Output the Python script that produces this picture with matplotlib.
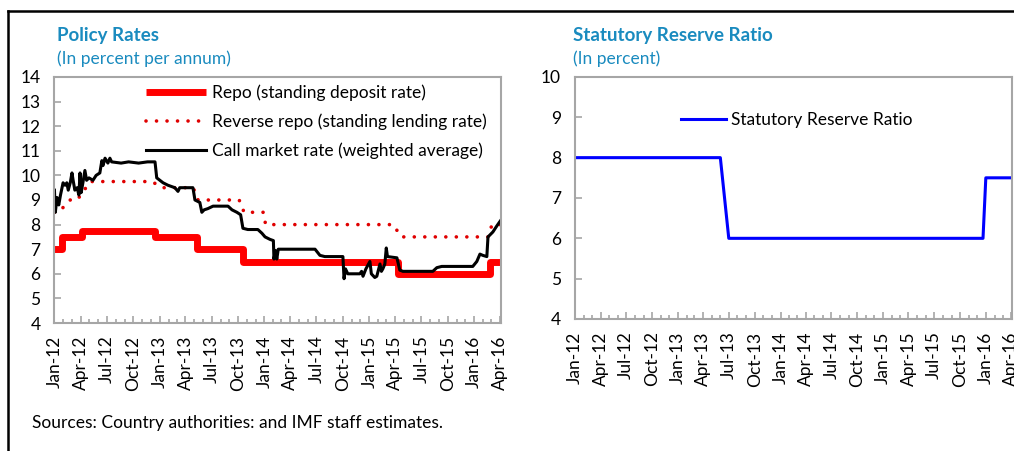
import matplotlib
matplotlib.use('Agg')
import matplotlib.pyplot as plt
import matplotlib.dates as mdates
from matplotlib.lines import Line2D
import pandas as pd

plt.rcParams['font.family'] = ['Lato', 'DejaVu Sans']

# repo (standing deposit rate), step changes
repo_dates = ['2012-01-01', '2012-01-27', '2012-04-05', '2012-12-16', '2013-05-11',
              '2013-10-18', '2015-04-10', '2016-02-25', '2016-04-03']
repo_vals = [7.0, 7.5, 7.75, 7.5, 7.0, 6.5, 6.0, 6.5, 6.5]

# reverse repo (standing lending rate)
rev_dates = ['2012-01-01', '2012-01-15', '2012-02-25', '2012-03-20', '2012-05-05',
             '2012-12-05', '2013-01-10', '2013-04-28', '2013-05-15', '2013-10-05',
             '2013-10-22', '2013-12-28', '2014-01-05', '2015-03-25', '2015-04-22',
             '2016-02-18', '2016-03-03', '2016-04-03']
rev_vals = [8.5, 8.5, 9.0, 9.0, 9.75, 9.75, 9.5, 9.5, 9.0, 9.0,
            8.5, 8.5, 8.0, 8.0, 7.5, 7.5, 8.0, 8.0]

# call market rate (weighted average)
call_dates = ['2012-01-01', '2012-01-04', '2012-01-10', '2012-01-16', '2012-01-22',
              '2012-01-31', '2012-02-07', '2012-02-13', '2012-02-18', '2012-02-25',
              '2012-03-02', '2012-03-06', '2012-03-12', '2012-03-20', '2012-03-26',
              '2012-03-30', '2012-04-03', '2012-04-09', '2012-04-16', '2012-04-22',
              '2012-04-30', '2012-05-14', '2012-05-25', '2012-06-07', '2012-06-14',
              '2012-06-18', '2012-06-25', '2012-07-05', '2012-07-12', '2012-07-18',
              '2012-08-20', '2012-09-15', '2012-10-20', '2012-11-20', '2012-12-16',
              '2012-12-22', '2013-01-02', '2013-01-13', '2013-01-30', '2013-02-23',
              '2013-03-06', '2013-03-12', '2013-04-27', '2013-05-04', '2013-05-21',
              '2013-05-28', '2013-06-05', '2013-06-18', '2013-07-06', '2013-08-27',
              '2013-09-10', '2013-09-27', '2013-10-10', '2013-10-18', '2013-11-04',
              '2013-12-09', '2013-12-23', '2014-01-03', '2014-01-20', '2014-02-01',
              '2014-02-03', '2014-02-08', '2014-02-13', '2014-02-18', '2014-06-26',
              '2014-07-13', '2014-07-30', '2014-10-01', '2014-10-05', '2014-10-10',
              '2014-10-18', '2014-11-29', '2014-12-05', '2014-12-10', '2014-12-20',
              '2015-01-03', '2015-01-08', '2015-01-20', '2015-01-27', '2015-02-07',
              '2015-02-12', '2015-02-17', '2015-02-24', '2015-03-01', '2015-03-05',
              '2015-04-07', '2015-04-17', '2015-04-28', '2015-08-10', '2015-08-24',
              '2015-09-10', '2015-12-27', '2016-01-10', '2016-01-21', '2016-01-31',
              '2016-02-14', '2016-02-18', '2016-03-06', '2016-03-20', '2016-04-01']
call_vals = [9.4, 8.5, 9.1, 8.8, 9.2,
             9.7, 9.6, 9.7, 9.4, 9.7,
             10.1, 9.8, 9.4, 9.5, 9.2,
             10.1, 9.3, 9.7, 10.2, 9.8,
             9.9, 9.8, 10.0, 10.1, 10.6,
             10.4, 10.7, 10.5, 10.7, 10.55,
             10.5, 10.55, 10.5, 10.55, 10.55,
             9.9, 9.8, 9.7, 9.6, 9.5,
             9.35, 9.5, 9.5, 9.0, 8.9,
             8.5, 8.6, 8.65, 8.75, 8.75,
             8.6, 8.5, 8.4, 7.85, 7.8,
             7.8, 7.65, 7.5, 7.4, 7.35,
             6.6, 6.95, 6.6, 7.0, 7.0,
             6.75, 6.7, 6.7, 5.8, 6.2,
             6.0, 6.0, 6.1, 5.9, 6.2,
             6.5, 6.0, 5.85, 5.9, 6.4,
             6.1, 6.2, 6.4, 7.05, 6.7,
             6.65, 6.15, 6.1, 6.1, 6.25,
             6.3, 6.3, 6.5, 6.8, 6.75,
             6.7, 7.5, 7.7, 7.95, 8.15]

# statutory reserve ratio
srr_dates = ['2012-01-01', '2013-06-01', '2013-07-01', '2015-12-22', '2016-01-01', '2016-04-03']
srr_vals = [8.0, 8.0, 6.0, 6.0, 7.5, 7.5]

blue = '#1a8bbf'
grey = '#a6a6a6'
fs = 12.5

fig = plt.figure(figsize=(10.14, 4.51), dpi=100)
ax1 = fig.add_axes([0.0537, 0.2838, 0.4403, 0.5455])
ax2 = fig.add_axes([0.567, 0.2927, 0.431, 0.5366])

xmin = pd.Timestamp('2012-01-01')
xmax = pd.Timestamp('2016-04-03')

ax1.plot(pd.to_datetime(repo_dates), repo_vals, color='#ff0000', lw=5,
         drawstyle='steps-post', solid_capstyle='butt', label='Repo (standing deposit rate)')
ax1.plot(pd.to_datetime(rev_dates), rev_vals, color='#e00000', lw=2.6,
         linestyle=(0, (0.01, 2.9)), dash_capstyle='round',
         label='Reverse repo (standing lending rate)')
ax1.plot(pd.to_datetime(call_dates), call_vals, color='black', lw=2.2,
         label='Call market rate (weighted average)')
ax1.set_ylim(4, 14)
ax1.set_yticks(range(4, 15))

ax2.plot(pd.to_datetime(srr_dates), srr_vals, color='#0000ff', lw=2.2,
         label='Statutory Reserve Ratio')
ax2.set_ylim(4, 10)
ax2.set_yticks(range(4, 11))

for ax in (ax1, ax2):
    ax.set_xlim(xmin, xmax)
    ax.xaxis.set_major_locator(mdates.MonthLocator(bymonth=[1, 4, 7, 10]))
    ax.xaxis.set_minor_locator(mdates.MonthLocator())
    ax.xaxis.set_major_formatter(mdates.DateFormatter('%b-%y'))
    for s in ax.spines.values():
        s.set_color(grey)
        s.set_linewidth(1.5)
    ax.tick_params(axis='x', which='major', direction='in', length=5, width=1.2,
                   color=grey, labelsize=fs, labelrotation=90, pad=9)
    ax.tick_params(axis='x', which='minor', direction='in', length=3, width=1.2, color=grey)
    ax.tick_params(axis='y', which='major', direction='in', length=5, width=1.2,
                   color=grey, labelsize=fs, pad=10)

ax1.legend(loc='upper left', bbox_to_anchor=(0.205, 0.97), frameon=False, fontsize=fs,
           handlelength=3.45, handletextpad=0.35, labelspacing=0.72, borderpad=0, borderaxespad=0)
ax2.legend(loc='upper left', bbox_to_anchor=(0.243, 0.855), frameon=False, fontsize=fs,
           handlelength=2.6, handletextpad=0.3, borderpad=0, borderaxespad=0)

fig.text(57 / 1014, 1 - 35 / 451, 'Policy Rates', color=blue, fontsize=13.5, fontweight='bold',
         va='center', ha='left')
fig.text(57 / 1014, 1 - 59 / 451, '(In percent per annum)', color=blue, fontsize=fs,
         va='center', ha='left')
fig.text(573 / 1014, 1 - 35 / 451, 'Statutory Reserve Ratio', color=blue, fontsize=13.5,
         fontweight='bold', va='center', ha='left')
fig.text(573 / 1014, 1 - 59 / 451, '(In percent)', color=blue, fontsize=fs,
         va='center', ha='left')
fig.text(32 / 1014, 1 - 423 / 451, 'Sources: Country authorities: and IMF staff estimates.',
         fontsize=fs, va='center', ha='left')

# box frame (top and left edges)
fig.add_artist(Line2D([8 / 1014, 1], [1 - 11 / 451, 1 - 11 / 451], color='black', lw=1.8))
fig.add_artist(Line2D([8 / 1014, 8 / 1014], [0, 1 - 11 / 451], color='black', lw=1.8))

fig.savefig('out.png', dpi=100)
